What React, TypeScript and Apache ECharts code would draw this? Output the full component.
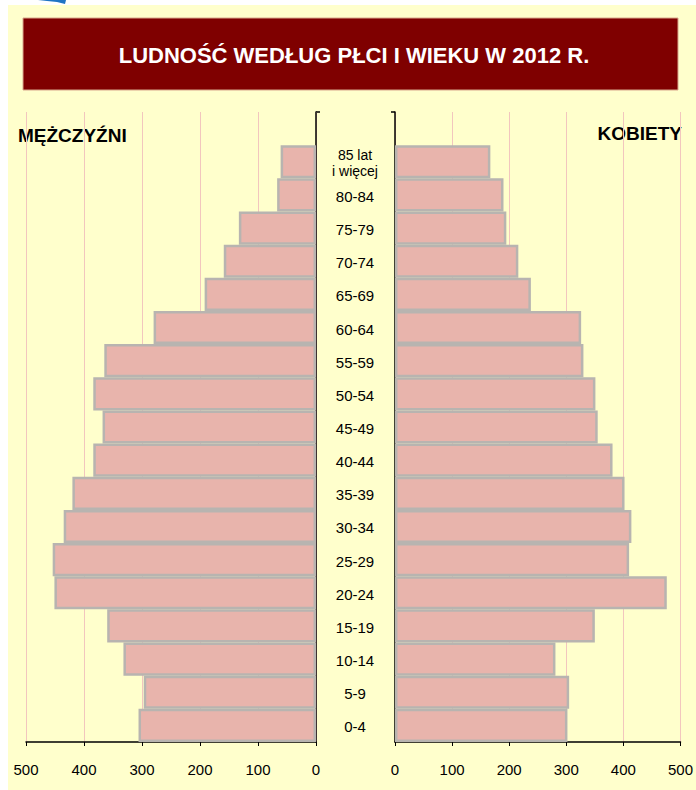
import React, { useEffect, useRef } from "react";
import * as echarts from "echarts";

const ageGroups = [
  "85 lat\ni więcej", "80-84", "75-79", "70-74", "65-69", "60-64", "55-59", "50-54", "45-49",
  "40-44", "35-39", "30-34", "25-29", "20-24", "15-19", "10-14", "5-9", "0-4",
];
const males = [61, 67, 133, 159, 192, 280, 365, 384, 368, 384, 420, 435, 454, 451, 360, 332, 297, 306];
const females = [167, 190, 195, 216, 238, 326, 330, 351, 355, 381, 402, 414, 410, 476, 350, 281, 305, 302];
const axisTicks = { min: 0, max: 500, interval: 100 };
const titleText = "LUDNOŚĆ WEDŁUG PŁCI I WIEKU W 2012 R.";
const leftLabel = "MĘŻCZYŹNI";
const rightLabel = "KOBIETY";

const FONT = "'Liberation Sans', Arial, sans-serif";

export default function App() {
  const ref = useRef<HTMLDivElement>(null);
  useEffect(() => {
    if (!ref.current) return;
    const chart = echarts.init(ref.current, null, { renderer: "svg" });
    const cats = [""].concat(ageGroups);
    const mData = ([null] as (number | null)[]).concat(males);
    const fData = ([null] as (number | null)[]).concat(females);
    const barStyle = { color: "#E8B4AC", borderColor: "#B8B4B0", borderWidth: 2.5 };
    const xAxisCommon = (gridIndex: number, inverse: boolean) => ({
      type: "value",
      gridIndex,
      inverse,
      min: axisTicks.min,
      max: axisTicks.max,
      interval: axisTicks.interval,
      axisLine: { show: true, lineStyle: { color: "#000", width: 1.5 } },
      axisTick: { show: true, length: 4, lineStyle: { color: "#000" } },
      axisLabel: { color: "#000", fontSize: 15, fontFamily: FONT, margin: 20 },
      splitLine: { show: true, lineStyle: { color: "#F2C6BE", width: 1 } },
    });
    chart.setOption({
      animation: false,
      backgroundColor: "transparent",
      textStyle: { fontFamily: FONT },
      grid: [
        { left: 26, right: 380, top: 112, bottom: 48 },
        { left: 395, right: 13, top: 112, bottom: 48 },
      ],
      xAxis: [xAxisCommon(0, true), xAxisCommon(1, false)],
      yAxis: [
        {
          type: "category",
          gridIndex: 0,
          position: "right",
          inverse: true,
          data: cats,
          axisLine: { show: true, lineStyle: { color: "#000", width: 1.5 } },
          axisTick: { show: false },
          axisLabel: { show: false },
        },
        {
          type: "category",
          gridIndex: 1,
          position: "left",
          inverse: true,
          data: cats,
          axisLine: { show: true, lineStyle: { color: "#000", width: 1.5 } },
          axisTick: { show: false },
          axisLabel: {
            show: true,
            align: "center",
            margin: 40,
            color: "#000",
            fontSize: 15,
            fontFamily: FONT,
            padding: [3, 0, 0, 0],
            formatter: (v: string) =>
              v.indexOf("\n") >= 0
                ? v.split("\n").map((s) => `{m|${s}}`).join("\n")
                : v,
            rich: {
              m: { fontSize: 14, lineHeight: 16, color: "#000", fontFamily: FONT },
            },
          },
        },
      ],
      series: [
        {
          type: "bar",
          xAxisIndex: 0,
          yAxisIndex: 0,
          data: mData,
          barCategoryGap: "0%",
          itemStyle: barStyle,
        },
        {
          type: "bar",
          xAxisIndex: 1,
          yAxisIndex: 1,
          data: fData,
          barCategoryGap: "0%",
          itemStyle: barStyle,
        },
      ],
      graphic: [
        {
          type: "polygon",
          shape: { points: [[38, 0], [66, 0], [65, 4], [57, 2], [47, 1]] },
          style: { fill: "#1F74C4" },
        },
        {
          type: "rect",
          shape: { x: 23, y: 18, width: 655, height: 72 },
          style: { fill: "#7F0000", stroke: "#D9A88C", lineWidth: 1 },
        },
        {
          type: "text",
          x: 354,
          y: 55,
          style: {
            text: titleText,
            fill: "#FFFFFF",
            font: `bold 22px ${FONT}`,
            align: "center",
            verticalAlign: "middle",
          },
        },
        {
          type: "text",
          x: 18,
          y: 135,
          style: {
            text: leftLabel,
            fill: "#000",
            font: `bold 19px ${FONT}`,
            align: "left",
            verticalAlign: "middle",
          },
        },
        {
          type: "text",
          x: 682,
          y: 133,
          style: {
            text: rightLabel,
            fill: "#000",
            font: `bold 19px ${FONT}`,
            align: "right",
            verticalAlign: "middle",
          },
        },
        {
          type: "line",
          shape: { x1: 316, y1: 112, x2: 320, y2: 112 },
          style: { stroke: "#000", lineWidth: 1.5 },
        },
        {
          type: "line",
          shape: { x1: 391, y1: 112, x2: 395, y2: 112 },
          style: { stroke: "#000", lineWidth: 1.5 },
        },
      ],
    });
    return () => chart.dispose();
  }, []);
  return (
    <div style={{ position: "fixed", left: 0, top: 0, width: 696, height: 790, background: "#FFFFFF" }}>
      <div style={{ position: "absolute", left: 8, top: 5, width: 688, height: 785, background: "#FFFFCC" }} />
      <div ref={ref} style={{ position: "absolute", left: 0, top: 0, width: 696, height: 790 }} />
    </div>
  );
}
